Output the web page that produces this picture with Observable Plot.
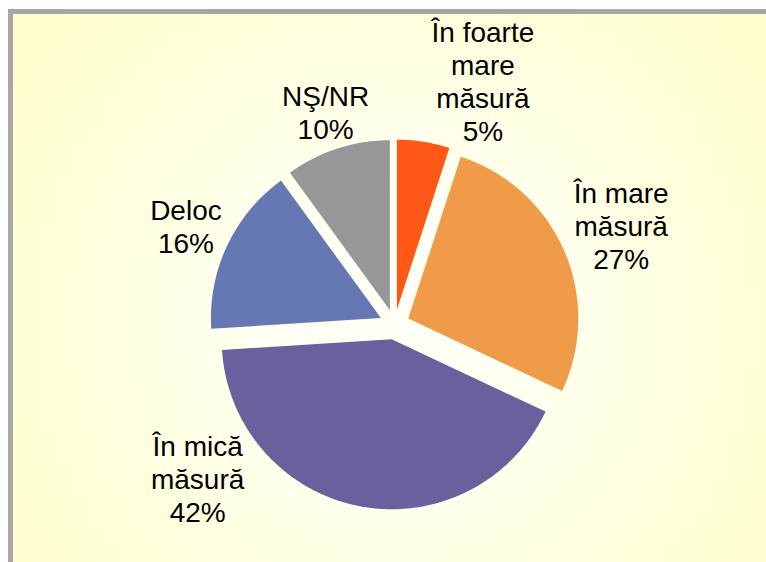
<!DOCTYPE html>
<html>
<head>
<meta charset="utf-8">
<script src="https://cdn.jsdelivr.net/npm/d3@7"></script>
<script src="https://cdn.jsdelivr.net/npm/@observablehq/plot@0.6"></script>
<style>
  html, body { margin: 0; padding: 0; background: #ffffff; }
  #wrap { position: relative; width: 766px; height: 562px; overflow: hidden; }
  #panel {
    position: absolute; left: 8px; top: 9px; width: 800px; height: 600px;
    border-left: 5px solid #a6a6a6; border-top: 5px solid #a6a6a6;
    background: radial-gradient(circle at 381px 310px, #fffff7 0px, #fffff1 140px, #ffffdc 310px, #ffffcc 470px);
  }
  #chart { position: absolute; left: 0; top: 0; }
</style>
</head>
<body>
<div id="wrap"><div id="panel"></div><div id="chart"></div></div>
<script>
// ---- data ----
const categories = ["În foarte mare măsură", "În mare măsură", "În mică măsură", "Deloc", "NŞ/NR"];
const values = [5, 27, 42, 16, 10];
const palette = ["#fe5716", "#ef9b4a", "#6b5f9d", "#6678b3", "#979797"];

// ---- layout constants ----
const W = 766, H = 562;
const CX = 394, CY = 324, R = 170, EXPLODE = 15;
const FS = 28, LH = 33;
const FONT = "Liberation Sans, Arial, Helvetica, sans-serif";
const BOUNDS = {top: 21, bottom: 522, left: 20, right: W - 6};

const total = d3.sum(values);
let acc = 0;
const slices = values.map((v, i) => {
  const a0 = acc / total * 2 * Math.PI; acc += v;
  const a1 = acc / total * 2 * Math.PI;
  return {cat: categories[i], v, a0, a1, am: (a0 + a1) / 2};
});

// slice polygons in pie units (radius = 1, y up)
const e = EXPLODE / R;
const slicePts = [];
for (const s of slices) {
  const ox = e * Math.sin(s.am), oy = e * Math.cos(s.am);
  slicePts.push({cat: s.cat, x: ox, y: oy});
  const n = Math.max(2, Math.ceil((s.a1 - s.a0) / (Math.PI / 360)));
  for (let k = 0; k <= n; k++) {
    const a = s.a0 + (s.a1 - s.a0) * k / n;
    slicePts.push({cat: s.cat, x: ox + Math.sin(a), y: oy + Math.cos(a)});
  }
}

// label wrapping & placement
const ctx = document.createElement("canvas").getContext("2d");
ctx.font = `${FS}px "Liberation Sans"`;
function wrap(str, max) {
  const words = str.split(" "), lines = [];
  let cur = "";
  for (const w of words) {
    const t = cur ? cur + " " + w : w;
    if (cur && ctx.measureText(t).width > max) { lines.push(cur); cur = w; } else cur = t;
  }
  if (cur) lines.push(cur);
  return lines;
}
const RP = R + EXPLODE + 2;
function boxDist(bx, by, hw, hh) {
  const dx = Math.max(Math.abs(bx - CX) - hw, 0), dy = Math.max(Math.abs(by - CY) - hh, 0);
  return Math.hypot(dx, dy);
}
function placeAt(theta, hw, hh) {
  const ux = Math.sin(theta), uy = -Math.cos(theta);
  let t = 0;
  while (boxDist(CX + t * ux, CY + t * uy, hw, hh) < RP) t += 0.5;
  return [CX + t * ux, CY + t * uy];
}
const labelPts = slices.map(s => {
  const lines = [...wrap(s.cat, 112), s.v + "%"];
  const n = lines.length;
  const hw = d3.max(lines, l => ctx.measureText(l).width) / 2;
  const topOff = (0.82 - 0.5 * n) * LH - 0.72 * FS;
  const botOff = (0.5 * n - 0.18) * LH;
  const hh = (botOff - topOff) / 2, co = (botOff + topOff) / 2;
  let th = s.am, pos;
  for (let k = 0; k < 180; k++) {
    pos = placeAt(th, hw, hh);
    if (pos[1] + hh > BOUNDS.bottom) th += (th > Math.PI ? 1 : -1) * Math.PI / 180;
    else if (pos[1] - hh < BOUNDS.top) th += (th < Math.PI ? 1 : -1) * Math.PI / 180;
    else break;
  }
  const px = pos[0], py = pos[1] - co;
  return {text: lines.join("\n"), x: (px - CX) / R, y: (CY - py) / R};
});

const plot = Plot.plot({
  width: W, height: H, margin: 0,
  x: {domain: [-CX / R, (W - CX) / R], axis: null},
  y: {domain: [-(H - CY) / R, CY / R], axis: null},
  color: {domain: categories, range: palette},
  style: {background: "transparent", overflow: "visible"},
  marks: [
    Plot.line(slicePts, {x: "x", y: "y", z: "cat", fill: "cat", stroke: "none", curve: "linear"}),
    Plot.text(labelPts, {x: "x", y: "y", text: "text", fontSize: FS, fontFamily: FONT,
      lineHeight: LH / FS, fill: "#000000", textAnchor: "middle"})
  ]
});
document.getElementById("chart").appendChild(plot);
</script>
</body>
</html>
